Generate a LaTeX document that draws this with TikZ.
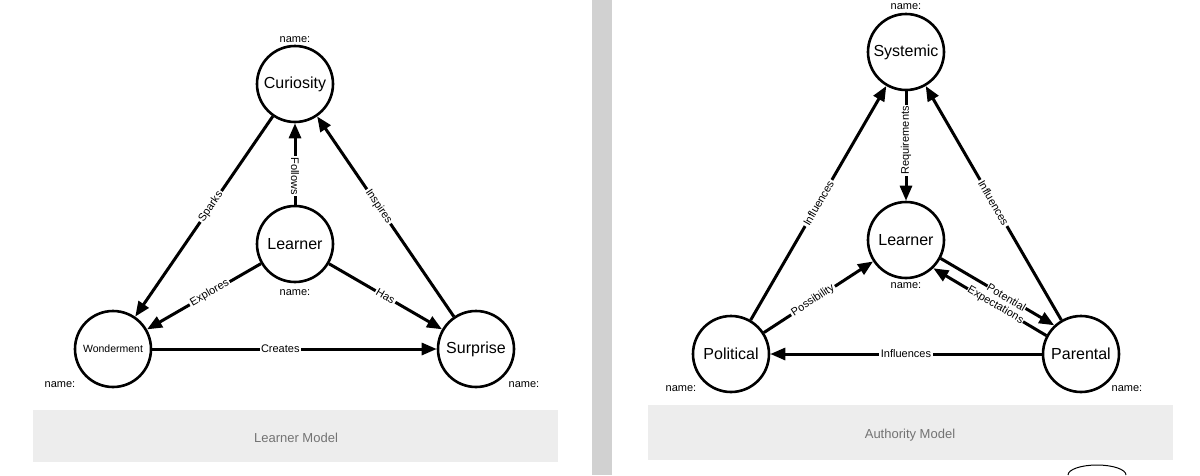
\documentclass[tikz,border=0pt]{standalone}
\usepackage{fontspec}
\setmainfont{Liberation Sans}
\usetikzlibrary{arrows.meta}
\begin{document}
\begin{tikzpicture}[x=1pt,y=-1pt,
  ent/.style={circle,draw,line width=2.6pt,minimum size=76pt,inner sep=0pt,font=\fontsize{16}{18}\selectfont},
  rel/.style={line width=3pt,-{Triangle[length=15pt,width=12pt]}},
  lbl/.style={fill=white,inner sep=1.5pt,font=\fontsize{11}{12}\selectfont},
  nm/.style={font=\fontsize{11}{12}\selectfont},
  capbox/.style={fill=black!7,draw=none},
  captxt/.style={text=black!55,font=\fontsize{13}{15}\selectfont}]
\useasboundingbox (0,0) rectangle (1200,475);
\fill[white] (0,0) rectangle (1200,475);
\fill[black!18] (592,0) rectangle (612,475);
% left panel
\node[capbox,minimum width=525pt,minimum height=52pt] (capL) at (295.5,436) {};
\node[captxt] (capLt) at (296,438) {Learner Model};
\node[ent] (cur) at (295,84) {Curiosity};
\node[ent] (lrn) at (295,244) {Learner};
\node[ent,font=\fontsize{10.5}{12}\selectfont] (won) at (113,349) {Wonderment};
\node[ent] (sur) at (476,349) {Surprise};
\node[nm] (n1) at (295,40) {name:};
\node[nm] (n2) at (295,293) {name:};
\node[nm] (n3) at (60,385) {name:};
\node[nm] (n4) at (524,385) {name:};
\draw[rel] (cur) -- node[lbl,sloped,pos=0.45] {Sparks} (won);
\draw[rel] (lrn) -- node[lbl,rotate=-90,pos=0.35] {Follows} (cur);
\draw[rel] (sur) -- node[lbl,sloped,pos=0.55] {Inspires} (cur);
\draw[rel] (lrn) -- node[lbl,sloped,pos=0.45] {Explores} (won);
\draw[rel] (lrn) -- node[lbl,sloped,pos=0.5] {Has} (sur);
\draw[rel] (won) -- node[lbl,pos=0.45] {Creates} (sur);
% right panel
\node[capbox,minimum width=525pt,minimum height=55pt] (capR) at (910.5,432.5) {};
\node[captxt] (capRt) at (910,435) {Authority Model};
\node[ent] (sys) at (906,52) {Systemic};
\node[ent] (lr2) at (906,240) {Learner};
\node[ent] (pol) at (731,354) {Political};
\node[ent] (par) at (1081,354) {Parental};
\node[nm] (m1) at (906,7) {name:};
\node[nm] (m2) at (906,286) {name:};
\node[nm] (m3) at (681,389) {name:};
\node[nm] (m4) at (1127,389) {name:};
\draw[rel] (pol) -- node[lbl,sloped,pos=0.5] {Influences} (sys);
\draw[rel] (sys) -- node[lbl,rotate=90,pos=0.45] {Requirements} (lr2);
\draw[rel] (par) -- node[lbl,sloped,pos=0.5] {Influences} (sys);
\draw[rel] (pol) -- node[lbl,sloped,pos=0.45] {Possibility} (lr2);
\draw[rel] (lr2.-28) -- node[lbl,sloped,pos=0.58,inner sep=0.5pt] {Potential} (par.133);
\draw[rel] (par.152) -- node[lbl,sloped,pos=0.45,inner sep=0.5pt] {Expectations} (lr2.-46);
\draw[rel] (par) -- node[lbl,pos=0.5] {Influences} (pol);
\draw[line width=1pt] (1068,475) arc[start angle=180,end angle=0,x radius=29pt,y radius=10pt];
\end{tikzpicture}
\end{document}
